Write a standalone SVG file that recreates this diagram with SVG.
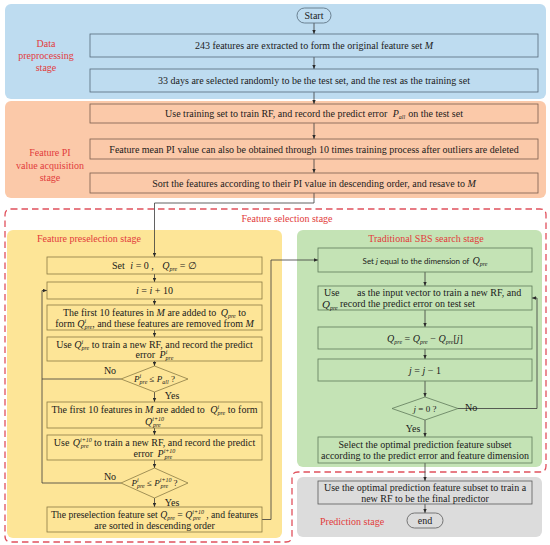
<svg xmlns="http://www.w3.org/2000/svg" width="550" height="545" viewBox="0 0 550 545">
<defs>
<marker id="ah" viewBox="0 0 6 6" refX="6" refY="3" markerWidth="4" markerHeight="4" markerUnits="userSpaceOnUse" orient="auto"><path d="M0,0.5 L6,3 L0,5.5 z" fill="#2b2b2b"/></marker>
<style>
text{font-family:"Liberation Serif",serif;font-size:10px;fill:#1b1b1b}
.c{text-anchor:middle}
.i{font-style:italic}
.s{font-size:6px;font-style:italic}
.red{fill:#e23b3b;font-size:10px}
.sans{font-family:Lato,"Liberation Sans",sans-serif;font-size:8px}
.bl{fill:#bedcf0;stroke:#556a7a;stroke-width:0.8}
.or{fill:#fbc9a9;stroke:#7a5e4e;stroke-width:0.8}
.ye{fill:#fde597;stroke:#8a7b45;stroke-width:0.8}
.gr{fill:#c4e3b5;stroke:#5f7a5a;stroke-width:0.8}
.gy{fill:#dcdcdc;stroke:#5a5a5a;stroke-width:0.8}
.cn{fill:none;stroke:#3a3a3a;stroke-width:0.8}
.ar{marker-end:url(#ah)}
.d{font-size:9px}
</style>
</defs>

<g id="panels">
<rect x="5" y="4" width="541" height="95" rx="6" fill="#bedcf0"/>
<rect x="5" y="101" width="541" height="97" rx="6" fill="#fbc9a9"/>
<rect x="7" y="230" width="275" height="308" rx="6" fill="#fde597"/>
<rect x="297" y="230" width="245" height="237" rx="6" fill="#c4e3b5"/>
<rect x="297" y="477" width="245" height="60" rx="6" fill="#dcdcdc"/>
<path d="M11,209 H540 Q546,209 546,215 V466 Q546,472 540,472 H298 Q292,472 292,478 V536 Q292,542 286,542 H11 Q5,542 5,536 V215 Q5,209 11,209 Z" fill="none" stroke="#e0505c" stroke-width="1.3" stroke-dasharray="6.5 4"/>
</g>

<g id="labels">
<text class="c red" x="46" y="47">Data</text>
<text class="c red" x="46" y="59">preprocessing</text>
<text class="c red" x="46" y="71">stage</text>
<text class="c red" x="50" y="156">Feature PI</text>
<text class="c red" x="50" y="168.5">value acquisition</text>
<text class="c red" x="50" y="181">stage</text>
<text class="c red" x="287" y="222">Feature selection stage</text>
<text class="red" x="37" y="241.5">Feature preselection stage</text>
<text class="c red" x="426" y="241.5">Traditional SBS search stage</text>
<text class="red" x="320" y="525">Prediction stage</text>
</g>

<g id="connectors">
<path class="cn ar" d="M314,23 V34"/>
<path class="cn ar" d="M314,57 V69"/>
<path class="cn ar" d="M314,92 V104"/>
<path class="cn ar" d="M314,123 V139"/>
<path class="cn ar" d="M314,159 V173"/>
<path class="cn ar" d="M314,193 V203 H154.5 V257"/>
<path class="cn ar" d="M154.5,274 V282"/>
<path class="cn ar" d="M154.5,299 V305"/>
<path class="cn ar" d="M154.5,330 V337"/>
<path class="cn ar" d="M154.5,361 V366"/>
<path class="cn ar" d="M154.5,392 V402"/>
<path class="cn ar" d="M154.5,428 V435"/>
<path class="cn ar" d="M154.5,460 V468"/>
<path class="cn ar" d="M154.5,498 V507"/>
<path class="cn" d="M121,379 H42"/>
<path class="cn ar" d="M121,483 H42 V290.5 H47"/>
<path class="cn ar" d="M262,519.5 H271 V260 H318"/>
<path class="cn ar" d="M425,272 V286"/>
<path class="cn ar" d="M425,310 V327"/>
<path class="cn ar" d="M425,349 V359"/>
<path class="cn ar" d="M425,381 V397"/>
<path class="cn ar" d="M458,408.5 H537 V298 H532"/>
<path class="cn ar" d="M425,420 V437"/>
<path class="cn ar" d="M425,463 V481"/>
<path class="cn ar" d="M425,504 V513"/>
</g>

<g id="start">
<rect x="297" y="8" width="34" height="15" rx="7.5" class="bl"/>
<text class="c" x="314" y="19">Start</text>
</g>
<g id="extract">
<rect x="90" y="34" width="448" height="23" class="bl"/>
<text class="c" x="314" y="49">243 features are extracted to form the original feature set <tspan class="i">M</tspan></text>
</g>
<g id="split">
<rect x="90" y="69" width="448" height="23" class="bl"/>
<text class="c" x="314" y="84">33 days are selected randomly to be the test set, and the rest as the training set</text>
</g>
<g id="train">
<rect x="90" y="104" width="448" height="19" class="or"/>
<text class="c" x="314" y="117">Use training set to train RF, and record the predict error <tspan dx="3" class="i">P</tspan><tspan class="s" dy="2">all</tspan><tspan dy="-2" dx="3">on the test set</tspan></text>
</g>
<g id="meanpi">
<rect x="90" y="139" width="448" height="20" class="or"/>
<text class="c" x="314" y="152.5">Feature mean PI value can also be obtained through 10 times training process after outliers are deleted</text>
</g>
<g id="sort">
<rect x="90" y="173" width="448" height="20" class="or"/>
<text class="c" x="314" y="186.5">Sort the features according to their PI value in descending order, and resave to <tspan class="i">M</tspan></text>
</g>

<g id="set-i">
<rect x="47" y="257" width="215" height="17" class="ye"/>
<text class="c" x="154.5" y="269">Set <tspan dx="3" class="i">i</tspan> = 0 , <tspan dx="6" class="i">Q</tspan><tspan class="s" dy="2">pre</tspan><tspan dy="-2"> = ∅</tspan></text>
</g>
<g id="inc-i">
<rect x="47" y="282" width="215" height="17" class="ye"/>
<text class="c" x="154.5" y="294"><tspan class="i">i</tspan> = <tspan class="i">i</tspan> + 10</text>
</g>
<g id="add10">
<rect x="47" y="305" width="215" height="25" class="ye"/>
<text class="c" x="154.5" y="315.5">The first 10 features in <tspan class="i">M</tspan> are added to <tspan dx="2" class="i">Q</tspan><tspan class="s" dy="2">pre</tspan><tspan dy="-2"> to</tspan></text>
<text class="c" x="154.5" y="326.5">form <tspan class="i">Q</tspan><tspan class="s" dy="-4">i</tspan><tspan class="s" dx="-1.7" dy="6">pre</tspan><tspan dy="-2">, and these features are removed from </tspan><tspan class="i">M</tspan></text>
</g>
<g id="trainQi">
<rect x="47" y="337" width="215" height="24" class="ye"/>
<text class="c" x="154.5" y="347.5">Use <tspan class="i">Q</tspan><tspan class="s" dy="-4">i</tspan><tspan class="s" dx="-1.7" dy="6">pre</tspan><tspan dy="-2"> to train a new RF, and record the predict</tspan></text>
<text class="c" x="154.5" y="358">error <tspan dx="2" class="i">P</tspan><tspan class="s" dy="-4">i</tspan><tspan class="s" dx="-1.7" dy="6">pre</tspan></text>
</g>
<g id="cmp1">
<polygon points="154.5,366 188,379 154.5,392 121,379" class="ye"/>
<text class="c d" x="154.5" y="382"><tspan class="i">P</tspan><tspan class="s" dy="-4">i</tspan><tspan class="s" dx="-1.7" dy="6">pre</tspan><tspan dy="-2"> ≤ </tspan><tspan class="i">P</tspan><tspan class="s" dy="2">all</tspan><tspan dy="-2"> ?</tspan></text>
<text class="c" x="110" y="374">No</text>
<text class="c" x="172" y="399">Yes</text>
</g>
<g id="add10b">
<rect x="47" y="402" width="215" height="26" class="ye"/>
<text class="c" x="154.5" y="413">The first 10 features in <tspan class="i">M</tspan> are added to <tspan dx="3" class="i">Q</tspan><tspan class="s" dy="-4">i</tspan><tspan class="s" dx="-1.7" dy="6">pre</tspan><tspan dy="-2"> to form</tspan></text>
<text class="c" x="154.5" y="424.5"><tspan class="i">Q</tspan><tspan class="s" dy="-4">i+10</tspan><tspan class="s" dx="-11" dy="6">pre</tspan></text>
</g>
<g id="trainQi10">
<rect x="47" y="435" width="215" height="25" class="ye"/>
<text class="c" x="154.5" y="446">Use <tspan dx="1" class="i">Q</tspan><tspan class="s" dy="-4">i+10</tspan><tspan class="s" dx="-11" dy="6">pre</tspan><tspan dy="-2" dx="3"> to train a new RF, and record the predict</tspan></text>
<text class="c" x="154.5" y="457">error <tspan dx="2" class="i">P</tspan><tspan class="s" dy="-4">i+10</tspan><tspan class="s" dx="-11" dy="6">pre</tspan></text>
</g>
<g id="cmp2">
<polygon points="154.5,468 188,483 154.5,498 121,483" class="ye"/>
<text class="c d" x="154.5" y="486"><tspan class="i">P</tspan><tspan class="s" dy="-4">i</tspan><tspan class="s" dx="-1.7" dy="6">pre</tspan><tspan dy="-2"> ≤ </tspan><tspan class="i">P</tspan><tspan class="s" dy="-4">i+10</tspan><tspan class="s" dx="-11" dy="6">pre</tspan><tspan dy="-2" dx="3"> ?</tspan></text>
<text class="c" x="110" y="480">No</text>
<text class="c" x="172" y="505.5">Yes</text>
</g>
<g id="preset">
<rect x="47" y="507" width="215" height="25" class="ye"/>
<text class="c" x="154.5" y="517.5" style="font-size:9.7px">The preselection feature set <tspan class="i">Q</tspan><tspan class="s" dy="2">pre</tspan><tspan dy="-2"> = </tspan><tspan class="i">Q</tspan><tspan class="s" dy="-4">i+10</tspan><tspan class="s" dx="-11" dy="6">pre</tspan><tspan dy="-2" dx="3"> , and features</tspan></text>
<text class="c" x="154.5" y="528.5">are sorted in descending order</text>
</g>

<g id="set-j">
<rect x="318" y="248" width="214" height="24" class="gr"/>
<text class="c" x="425" y="263.5"><tspan class="sans">Set <tspan class="i">j</tspan> equal to the dimension of</tspan><tspan dx="3" class="i">Q</tspan><tspan class="s" dy="2">pre</tspan></text>
</g>
<g id="sbs-train">
<rect x="318" y="286" width="214" height="24" class="gr"/>
<text x="324" y="296">Use</text>
<text x="357" y="296">as the input vector to train a new RF, and</text>
<text x="322" y="307.5" class="i" style="font-size:11px">Q<tspan class="s" dy="2">pre</tspan></text>
<text x="340" y="307">record the predict error on test set</text>
</g>
<g id="remove">
<rect x="318" y="327" width="214" height="22" class="gr"/>
<text class="c" x="425" y="341.5"><tspan class="i">Q</tspan><tspan class="s" dy="2">pre</tspan><tspan dy="-2"> = </tspan><tspan class="i">Q</tspan><tspan class="s" dy="2">pre</tspan><tspan dy="-2"> − </tspan><tspan class="i">Q</tspan><tspan class="s" dy="2">pre</tspan><tspan dy="-2">[</tspan><tspan class="i">j</tspan>]</text>
</g>
<g id="dec-j">
<rect x="318" y="359" width="214" height="22" class="gr"/>
<text class="c" x="425" y="373.5"><tspan class="i">j</tspan> = <tspan class="i">j</tspan> − 1</text>
</g>
<g id="cmp-j">
<polygon points="425,397 458,408.5 425,420 392,408.5" class="gr"/>
<text class="c d" x="425" y="411.5"><tspan class="i">j</tspan> = 0 ?</text>
<text x="465" y="411">No</text>
<text class="c" x="413" y="431.5">Yes</text>
</g>
<g id="select">
<rect x="318" y="437" width="214" height="26" class="gr"/>
<text class="c" x="425" y="447.5">Select the optimal prediction feature subset</text>
<text class="c" x="425" y="459">according to the predict error and feature dimension</text>
</g>
<g id="final">
<rect x="318" y="481" width="214" height="23" class="gy"/>
<text class="c" x="425" y="490.5">Use the optimal prediction feature subset  to train a</text>
<text class="c" x="425" y="501.5">new RF to be the final predictor</text>
</g>
<g id="end">
<rect x="407" y="513" width="36" height="15" rx="7.5" class="gy"/>
<text class="c" x="425" y="524">end</text>
</g>
</svg>
